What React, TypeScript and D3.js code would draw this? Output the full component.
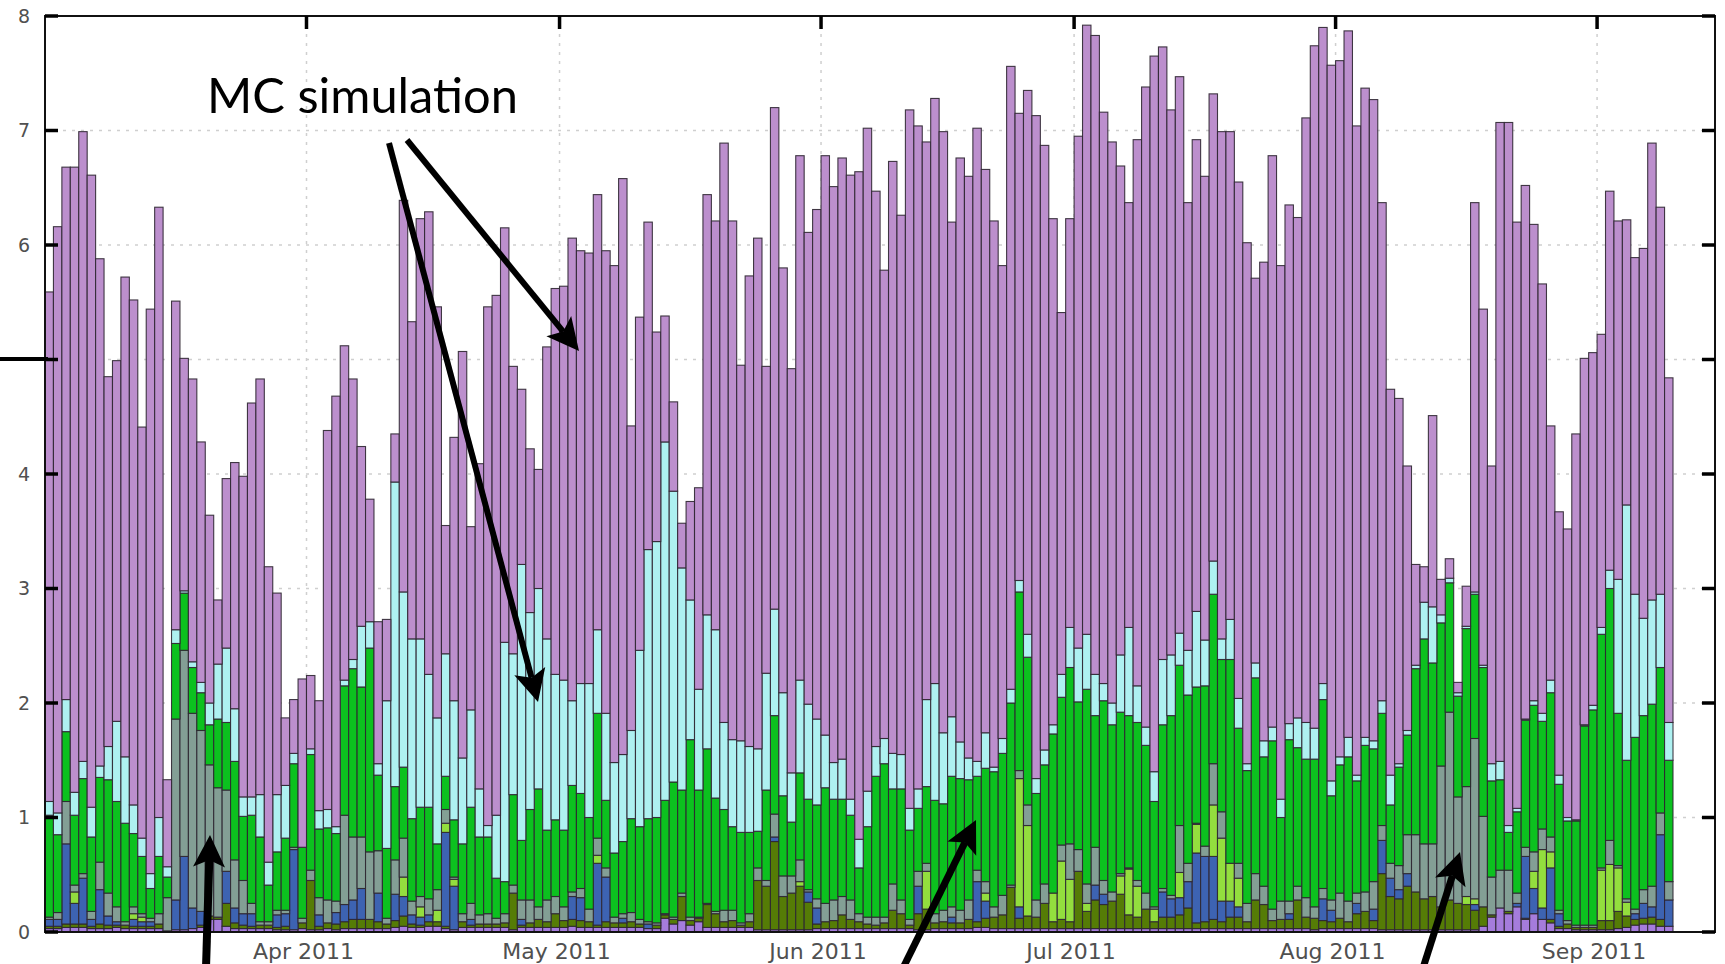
import React, { useRef, useEffect } from 'react';
import * as d3 from 'd3';

// one bar per day, 1 Mar 2011 .. 9 Sep 2011
const firstDay = new Date(Date.UTC(2011, 2, 1));
const endDay = new Date(Date.UTC(2011, 8, 10));

// top of each bar (MC simulation on top)
const totalTop = [
  5.59, 6.16, 6.68, 6.68, 6.99, 6.61, 5.88, 4.85, 4.99, 5.72,
  5.52, 4.41, 5.44, 6.33, 1.33, 5.51, 5.01, 4.83, 4.28, 3.64,
  2.90, 3.96, 4.10, 3.98, 4.62, 4.83, 3.19, 2.96, 1.87, 2.03,
  2.21, 2.24, 2.02, 4.38, 4.68, 5.12, 4.83, 4.24, 3.78, 2.71,
  2.73, 4.35, 6.39, 5.33, 6.23, 6.29, 5.46, 3.55, 4.32, 5.07,
  3.54, 4.09, 5.46, 5.56, 6.15, 4.94, 4.74, 4.22, 4.04, 5.11,
  5.62, 5.64, 6.06, 5.95, 5.93, 6.44, 5.95, 5.82, 6.58, 4.42,
  5.37, 6.20, 5.24, 5.38, 4.63, 3.57, 3.76, 3.88, 6.44, 6.21,
  6.89, 6.21, 4.95, 5.73, 6.06, 4.94, 7.20, 5.80, 4.92, 6.78,
  6.11, 6.31, 6.78, 6.51, 6.76, 6.61, 6.64, 7.02, 6.47, 5.78,
  6.73, 6.26, 7.18, 7.04, 6.90, 7.28, 6.99, 6.20, 6.76, 6.60,
  7.02, 6.66, 6.21, 5.82, 7.56, 7.15, 7.35, 7.13, 6.87, 6.23,
  5.41, 6.23, 6.95, 7.92, 7.83, 7.16, 6.90, 6.69, 6.37, 6.92,
  7.38, 7.65, 7.73, 7.18, 7.47, 6.37, 6.92, 6.60, 7.32, 6.99,
  6.99, 6.55, 6.02, 5.71, 5.85, 6.78, 5.82, 6.35, 6.24, 7.11,
  7.74, 7.90, 7.57, 7.61, 7.87, 7.04, 7.37, 7.27, 6.37, 4.74,
  4.66, 4.07, 3.21, 3.19, 4.51, 3.08, 3.26, 2.18, 3.02, 6.37,
  5.44, 4.07, 7.07, 7.07, 6.20, 6.52, 6.18, 5.66, 4.42, 3.67,
  3.52, 4.35, 5.01, 5.06, 5.22, 6.47, 6.21, 6.22, 5.89, 5.97,
  6.89, 6.33, 4.84,
];

// top of the light cyan layer
const cyanTop = [
  1.14, 1.04, 2.03, 1.22, 1.49, 1.09, 1.45, 1.62, 1.84, 1.53,
  1.11, 0.82, 0.51, 1.00, 0.57, 2.64, 2.98, 2.36, 2.18, 2.00,
  2.34, 2.48, 1.95, 1.18, 1.18, 1.20, 0.61, 1.20, 1.28, 1.56,
  0.74, 1.60, 1.06, 1.07, 0.92, 2.20, 2.38, 2.67, 2.71, 1.47,
  2.02, 3.93, 2.97, 2.56, 2.56, 2.25, 1.87, 2.43, 2.02, 1.52,
  1.94, 1.25, 0.93, 1.02, 2.53, 2.43, 3.21, 2.79, 3.00, 2.56,
  2.25, 2.20, 2.02, 2.17, 2.17, 2.64, 1.91, 1.48, 1.55, 1.76,
  2.46, 3.34, 3.41, 4.28, 3.85, 3.18, 2.90, 2.12, 2.77, 2.64,
  1.83, 1.68, 1.67, 1.62, 1.60, 2.26, 2.82, 2.09, 1.39, 2.20,
  1.99, 1.86, 1.72, 1.48, 1.51, 1.16, 0.81, 1.23, 1.62, 1.69,
  1.56, 1.55, 1.08, 1.25, 2.03, 2.17, 1.74, 1.88, 1.66, 1.52,
  1.49, 1.74, 1.44, 1.69, 2.12, 3.07, 2.60, 1.34, 1.59, 1.81,
  2.25, 2.66, 2.48, 2.60, 2.25, 2.17, 2.00, 2.42, 2.66, 2.15,
  1.79, 1.40, 2.38, 2.42, 2.61, 2.46, 2.80, 2.55, 3.24, 2.56,
  2.73, 2.04, 1.47, 2.35, 1.67, 1.79, 1.16, 1.82, 1.87, 1.83,
  1.78, 2.17, 1.32, 1.53, 1.70, 1.37, 1.70, 1.67, 2.02, 1.37,
  1.47, 1.76, 2.33, 2.88, 2.84, 2.77, 3.09, 2.09, 2.67, 2.97,
  2.33, 1.47, 1.49, 0.93, 1.08, 1.86, 2.02, 1.91, 2.20, 1.37,
  1.00, 0.98, 1.81, 1.98, 2.66, 3.16, 3.08, 3.73, 2.95, 2.74,
  2.90, 2.95, 1.83,
];

// top of the green layer
const greenTop = [
  1.02, 0.85, 1.75, 1.02, 1.34, 0.83, 1.35, 1.33, 1.14, 0.95,
  0.86, 0.66, 0.38, 0.66, 0.48, 2.52, 2.96, 2.31, 2.09, 1.81,
  1.86, 1.83, 1.49, 1.01, 1.02, 0.83, 0.41, 0.70, 0.82, 1.47,
  0.74, 1.55, 0.90, 0.91, 0.86, 2.15, 2.30, 2.14, 2.48, 1.37,
  0.73, 1.27, 1.44, 0.99, 1.09, 1.09, 0.77, 1.36, 0.98, 0.77,
  1.09, 0.83, 0.83, 0.47, 0.44, 1.20, 0.80, 1.07, 1.25, 0.89,
  0.98, 0.89, 1.28, 1.21, 1.00, 1.91, 1.15, 0.69, 0.79, 0.99,
  0.92, 0.99, 1.00, 1.15, 1.31, 1.24, 1.68, 1.24, 1.60, 1.17,
  1.07, 0.92, 0.87, 0.87, 0.88, 1.24, 1.89, 1.19, 0.96, 1.39,
  1.16, 1.11, 1.26, 1.16, 1.16, 1.02, 0.56, 0.92, 1.36, 1.47,
  1.25, 1.25, 0.89, 1.08, 1.27, 1.15, 1.12, 1.36, 1.34, 1.33,
  1.36, 1.43, 1.40, 1.56, 2.00, 2.97, 2.40, 1.21, 1.46, 1.73,
  2.05, 2.31, 2.01, 2.12, 1.89, 2.02, 1.81, 1.92, 1.89, 1.83,
  1.63, 1.14, 1.81, 1.89, 2.33, 2.07, 2.14, 2.15, 2.95, 2.38,
  2.38, 1.78, 1.41, 2.22, 1.53, 1.67, 1.00, 1.68, 1.61, 1.51,
  1.51, 2.03, 1.19, 1.46, 1.53, 1.32, 1.63, 1.60, 1.91, 1.11,
  1.44, 1.72, 2.30, 2.56, 2.35, 2.70, 3.05, 2.06, 2.65, 2.95,
  2.31, 1.32, 1.33, 0.87, 1.05, 1.85, 1.98, 1.84, 2.09, 1.29,
  0.97, 0.97, 1.80, 1.94, 2.60, 3.00, 1.91, 1.50, 1.70, 1.89,
  1.99, 2.31, 1.50,
];

// top of the grey-green layer (everything under the green)
const grayTop = [
  0.13, 0.17, 1.14, 0.41, 0.51, 0.18, 0.61, 0.34, 0.22, 0.09,
  0.22, 0.16, 0.12, 0.16, 0.30, 1.86, 2.46, 1.91, 1.76, 1.46,
  1.26, 1.24, 0.63, 0.45, 0.25, 0.09, 0.09, 0.19, 0.19, 0.74,
  0.12, 0.54, 0.30, 0.28, 0.27, 1.02, 0.83, 0.83, 0.70, 0.71,
  0.12, 0.63, 0.82, 0.27, 0.31, 0.29, 0.37, 1.07, 0.48, 0.16,
  0.25, 0.15, 0.16, 0.12, 0.16, 0.41, 0.28, 0.28, 0.22, 0.28,
  0.31, 0.22, 0.35, 0.38, 0.20, 0.82, 0.56, 0.13, 0.16, 0.17,
  0.11, 0.09, 0.08, 0.16, 0.13, 0.34, 0.13, 0.13, 0.25, 0.18,
  0.19, 0.19, 0.08, 0.16, 0.56, 0.45, 1.03, 0.49, 0.49, 0.63,
  0.37, 0.29, 0.25, 0.28, 0.31, 0.28, 0.16, 0.13, 0.13, 0.13,
  0.42, 0.28, 0.11, 0.53, 0.60, 0.16, 0.19, 0.22, 0.19, 0.28,
  0.54, 0.44, 0.22, 0.32, 0.41, 1.41, 1.11, 0.28, 0.42, 0.34,
  0.76, 0.77, 0.72, 0.42, 0.74, 0.45, 0.35, 0.51, 0.56, 0.45,
  0.34, 0.22, 0.38, 0.32, 0.93, 0.60, 0.95, 0.75, 1.47, 1.05,
  0.60, 0.60, 0.25, 0.51, 0.40, 0.20, 0.27, 0.27, 0.40, 0.30,
  0.22, 0.38, 0.28, 0.34, 0.27, 0.34, 0.35, 0.44, 0.93, 0.60,
  0.58, 0.85, 0.85, 0.77, 0.77, 1.45, 1.92, 1.18, 1.27, 1.69,
  1.01, 0.48, 0.54, 0.54, 0.34, 0.74, 0.70, 0.90, 0.83, 0.19,
  0.10, 0.06, 0.06, 0.06, 0.56, 0.80, 0.58, 0.29, 0.20, 0.37,
  0.40, 1.04, 0.44,
];

// small layers at the bottom, heights
const lightGreen = [
  0, 0, 0, 0.10, 0, 0, 0, 0, 0, 0,
  0.05, 0.04, 0, 0, 0, 0, 0, 0, 0, 0,
  0, 0, 0, 0, 0, 0, 0, 0, 0, 0,
  0, 0, 0, 0, 0, 0, 0, 0, 0, 0,
  0, 0, 0.17, 0, 0.09, 0, 0.10, 0.08, 0.06, 0,
  0, 0, 0, 0, 0, 0, 0, 0, 0, 0,
  0, 0, 0, 0, 0, 0.07, 0, 0, 0, 0,
  0, 0, 0, 0, 0, 0, 0, 0, 0, 0,
  0, 0, 0, 0, 0, 0, 0, 0, 0, 0.04,
  0, 0, 0, 0, 0, 0, 0, 0, 0, 0,
  0, 0, 0, 0, 0.33, 0, 0, 0, 0, 0,
  0, 0.07, 0, 0, 0, 1.12, 0.79, 0, 0, 0.25,
  0.51, 0.37, 0, 0.07, 0, 0, 0, 0.16, 0.40, 0.27,
  0, 0.11, 0, 0, 0.22, 0, 0.25, 0, 0.45, 0.55,
  0.33, 0.25, 0, 0, 0, 0, 0, 0, 0, 0,
  0, 0, 0, 0, 0, 0, 0, 0, 0, 0,
  0, 0, 0, 0, 0, 0, 0, 0, 0.07, 0.05,
  0, 0, 0, 0, 0, 0, 0.15, 0.51, 0.14, 0,
  0, 0, 0, 0, 0.44, 0.49, 0.38, 0.12, 0, 0,
  0, 0, 0,
];

const blue = [
  0.06, 0.06, 0.70, 0.18, 0.40, 0.06, 0.30, 0.08, 0.03, 0,
  0.06, 0.04, 0.04, 0, 0, 0.26, 0.64, 0.18, 0.12, 0,
  0, 0.28, 0.13, 0.10, 0.11, 0, 0, 0.11, 0.11, 0.70,
  0, 0, 0.10, 0, 0.10, 0.15, 0.17, 0.27, 0, 0.25,
  0, 0.23, 0.17, 0.08, 0.07, 0.06, 0, 0.82, 0.38, 0,
  0.05, 0, 0, 0, 0, 0, 0.05, 0, 0, 0,
  0, 0, 0.20, 0.20, 0, 0.54, 0.39, 0, 0.04, 0,
  0, 0.04, 0, 0, 0, 0, 0, 0, 0, 0,
  0, 0, 0, 0, 0, 0, 0.04, 0, 0, 0,
  0.09, 0.14, 0, 0, 0, 0, 0, 0, 0, 0,
  0, 0, 0, 0.24, 0, 0, 0, 0.05, 0, 0,
  0.35, 0.15, 0, 0, 0, 0.10, 0, 0, 0, 0,
  0, 0, 0, 0, 0.13, 0.09, 0, 0, 0, 0,
  0, 0, 0.22, 0.16, 0.15, 0.23, 0.61, 0.57, 0.55, 0.18,
  0.14, 0.09, 0, 0, 0, 0, 0, 0.05, 0, 0,
  0, 0.19, 0.10, 0, 0, 0.09, 0, 0.10, 0.29, 0.16,
  0.08, 0.11, 0, 0, 0, 0, 0, 0, 0, 0.05,
  0, 0, 0, 0, 0.03, 0.54, 0.22, 0.10, 0.45, 0.11,
  0, 0, 0, 0, 0, 0, 0, 0, 0.05, 0.13,
  0.09, 0.74, 0.23,
];

const olive = [
  0.02, 0.02, 0.03, 0.03, 0.03, 0.02, 0.04, 0.03, 0.02, 0.03,
  0.02, 0.02, 0.02, 0.04, 0, 0, 0, 0, 0.02, 0.03,
  0.02, 0.20, 0.05, 0.03, 0.02, 0.03, 0.03, 0.02, 0.03, 0,
  0.05, 0.43, 0.03, 0.05, 0.05, 0.06, 0.08, 0.08, 0.08, 0.06,
  0.04, 0.06, 0.09, 0.03, 0.02, 0.04, 0.04, 0.02, 0, 0.05,
  0.02, 0.03, 0.03, 0.03, 0.04, 0.32, 0.02, 0.04, 0.07, 0.05,
  0.12, 0.06, 0.06, 0.06, 0.05, 0.02, 0.05, 0.04, 0.04, 0.05,
  0.03, 0, 0.03, 0.03, 0.04, 0.21, 0.04, 0.03, 0.20, 0.12,
  0.05, 0.06, 0.02, 0.05, 0.43, 0.38, 0.77, 0.29, 0.32, 0.38,
  0.24, 0.04, 0.06, 0.07, 0.12, 0.08, 0.06, 0.04, 0.03, 0.05,
  0.16, 0.13, 0.03, 0.14, 0.18, 0.05, 0.06, 0.05, 0.05, 0.08,
  0.05, 0.08, 0.10, 0.12, 0.36, 0.09, 0.11, 0.10, 0.22, 0.06,
  0.08, 0.06, 0.50, 0.15, 0.25, 0.21, 0.24, 0.30, 0.12, 0.10,
  0.17, 0.06, 0.10, 0.10, 0.12, 0.18, 0.05, 0.06, 0.08, 0.06,
  0.10, 0.10, 0.06, 0.25, 0.21, 0.07, 0.08, 0.08, 0.25, 0.10,
  0.10, 0.07, 0.06, 0.09, 0.06, 0.13, 0.15, 0.07, 0.49, 0.29,
  0.27, 0.38, 0.33, 0.27, 0.29, 0.20, 0.26, 0.23, 0.22, 0.17,
  0.17, 0.02, 0, 0.02, 0, 0.01, 0, 0, 0.03, 0.02,
  0.04, 0.02, 0.02, 0.02, 0.08, 0.08, 0.15, 0.10, 0.05, 0.05,
  0.06, 0.06, 0,
];

const violet = [
  0.03, 0.03, 0.04, 0.04, 0.04, 0.03, 0.03, 0.03, 0.04, 0.03,
  0.03, 0.03, 0.03, 0.03, 0.01, 0.02, 0.02, 0.03, 0.04, 0.11,
  0.11, 0.05, 0.03, 0.03, 0.03, 0.03, 0.03, 0.02, 0.02, 0.02,
  0.03, 0.02, 0.02, 0.03, 0.02, 0.03, 0.03, 0.03, 0.03, 0.03,
  0.03, 0.04, 0.05, 0.04, 0.04, 0.05, 0.05, 0.03, 0.02, 0.04,
  0.04, 0.04, 0.04, 0.04, 0.04, 0.02, 0.04, 0.04, 0.04, 0.04,
  0.04, 0.04, 0.05, 0.04, 0.04, 0.04, 0.04, 0.04, 0.04, 0.04,
  0.04, 0.03, 0.03, 0.12, 0.07, 0.10, 0.06, 0.09, 0.04, 0.04,
  0.04, 0.04, 0.04, 0.04, 0.02, 0.02, 0.02, 0.02, 0.02, 0.02,
  0.02, 0.03, 0.03, 0.03, 0.03, 0.03, 0.03, 0.03, 0.03, 0.03,
  0.03, 0.03, 0.03, 0.02, 0.02, 0.03, 0.03, 0.03, 0.03, 0.03,
  0.04, 0.04, 0.03, 0.03, 0.03, 0.03, 0.03, 0.03, 0.03, 0.03,
  0.03, 0.03, 0.03, 0.03, 0.03, 0.03, 0.03, 0.03, 0.03, 0.03,
  0.03, 0.03, 0.03, 0.03, 0.03, 0.03, 0.03, 0.03, 0.03, 0.03,
  0.03, 0.03, 0.03, 0.03, 0.03, 0.03, 0.03, 0.03, 0.03, 0.03,
  0.02, 0.03, 0.03, 0.03, 0.03, 0.03, 0.03, 0.03, 0.02, 0.02,
  0.02, 0.02, 0.02, 0.02, 0.02, 0.02, 0.02, 0.02, 0.02, 0.02,
  0.05, 0.13, 0.21, 0.16, 0.22, 0.11, 0.16, 0.11, 0.08, 0.03,
  0.03, 0.02, 0.02, 0.02, 0.02, 0.02, 0.03, 0.04, 0.06, 0.07,
  0.07, 0.05, 0.05,
];

const layerKeys = ['violet', 'olive', 'blue', 'lightGreen', 'gray', 'green', 'cyan', 'purple'];
const layerColors = {
  violet: '#a57cdc',
  olive: '#557c06',
  blue: '#3d63b2',
  lightGreen: '#93de3e',
  gray: '#839f95',
  green: '#0cc11f',
  cyan: '#aef1f1',
  purple: '#bc8fcd',
};

const yTicks = [0, 1, 2, 3, 4, 5, 6, 7, 8];
// the "5" label sits under the black annotation stroke in the picture
const yTickLabels = ['0', '1', '2', '3', '4', '', '6', '7', '8'];
const monthTicks = [
  new Date(Date.UTC(2011, 3, 1)),
  new Date(Date.UTC(2011, 4, 1)),
  new Date(Date.UTC(2011, 5, 1)),
  new Date(Date.UTC(2011, 6, 1)),
  new Date(Date.UTC(2011, 7, 1)),
  new Date(Date.UTC(2011, 8, 1)),
];
const monthLabels = ['Apr 2011', 'May 2011', 'Jun 2011', 'Jul 2011', 'Aug 2011', 'Sep 2011'];

const W = 1725;
const H = 964;
const plot = { left: 45, right: 1715, top: 16, bottom: 932, barsEnd: 1673 };

// arrow: shaft plus notched head
const drawArrow = (g, x1, y1, x2, y2, w) => {
  const headLen = 32;
  const headW = 32;
  const len = Math.hypot(x2 - x1, y2 - y1);
  const ux = (x2 - x1) / len;
  const uy = (y2 - y1) / len;
  const bx = x2 - ux * headLen;
  const by = y2 - uy * headLen;
  const nx = bx + ux * 7;
  const ny = by + uy * 7;
  g.append('line')
    .attr('x1', x1).attr('y1', y1)
    .attr('x2', nx).attr('y2', ny)
    .attr('stroke', '#000').attr('stroke-width', w);
  g.append('polygon')
    .attr('points', [
      [x2, y2],
      [bx - uy * headW / 2, by + ux * headW / 2],
      [nx, ny],
      [bx + uy * headW / 2, by - ux * headW / 2],
    ].map(p => p.join(',')).join(' '))
    .attr('fill', '#000');
};

const App = () => {
  const svgRef = useRef(null);

  useEffect(() => {
    const svg = d3.select(svgRef.current);
    svg.selectAll('*').remove();

    const days = d3.utcDay.range(firstDay, endDay);
    const rows = days.map((d, i) => {
      const under = violet[i] + olive[i] + blue[i] + lightGreen[i];
      return {
        date: d,
        violet: violet[i],
        olive: olive[i],
        blue: blue[i],
        lightGreen: lightGreen[i],
        gray: Math.max(0, grayTop[i] - under),
        green: greenTop[i] - grayTop[i],
        cyan: cyanTop[i] - greenTop[i],
        purple: totalTop[i] - cyanTop[i],
      };
    });

    const x = d3.scaleUtc().domain([firstDay, endDay]).range([plot.left, plot.barsEnd]);
    const y = d3.scaleLinear().domain([0, 8]).range([plot.bottom, plot.top]);

    svg.append('rect').attr('width', W).attr('height', H).attr('fill', '#fff');

    // dotted grid
    const grid = svg.append('g').attr('stroke', '#cfcfcf').attr('stroke-width', 1.5).attr('stroke-dasharray', '3,6');
    grid.selectAll('.gy').data(yTicks.slice(1, -1)).enter().append('line')
      .attr('x1', plot.left).attr('x2', plot.right)
      .attr('y1', d => y(d)).attr('y2', d => y(d));
    grid.selectAll('.gx').data(monthTicks).enter().append('line')
      .attr('x1', d => x(d)).attr('x2', d => x(d))
      .attr('y1', plot.top).attr('y2', plot.bottom);

    // stacked bars
    const stacked = d3.stack().keys(layerKeys)(rows);
    svg.append('g')
      .selectAll('g')
      .data(stacked)
      .enter().append('g')
      .attr('fill', d => layerColors[d.key])
      .selectAll('rect')
      .data(d => d.filter(s => s[1] - s[0] > 0.004))
      .enter().append('rect')
      .attr('x', d => x(d.data.date))
      .attr('width', d => x(d3.utcDay.offset(d.data.date, 1)) - x(d.data.date))
      .attr('y', d => y(d[1]))
      .attr('height', d => y(d[0]) - y(d[1]))
      .attr('stroke', '#2e2631')
      .attr('stroke-opacity', 0.9)
      .attr('stroke-width', 1.1);

    // frame and ticks
    svg.append('rect')
      .attr('x', plot.left).attr('y', plot.top)
      .attr('width', plot.right - plot.left).attr('height', plot.bottom - plot.top)
      .attr('fill', 'none').attr('stroke', '#111').attr('stroke-width', 2);

    const ticks = svg.append('g').attr('stroke', '#000').attr('stroke-width', 3.5);
    ticks.selectAll('.tl').data(yTicks).enter().append('line')
      .attr('x1', plot.left).attr('x2', plot.left + 13)
      .attr('y1', d => y(d)).attr('y2', d => y(d));
    ticks.selectAll('.tr').data(yTicks).enter().append('line')
      .attr('x1', plot.right - 13).attr('x2', plot.right)
      .attr('y1', d => y(d)).attr('y2', d => y(d));
    ticks.selectAll('.tt').data(monthTicks).enter().append('line')
      .attr('x1', d => x(d)).attr('x2', d => x(d))
      .attr('y1', plot.top).attr('y2', plot.top + 13);

    svg.append('g')
      .selectAll('text')
      .data(yTicks)
      .enter().append('text')
      .attr('x', 24)
      .attr('y', d => y(d))
      .attr('dy', '0.36em')
      .attr('text-anchor', 'middle')
      .attr('font-family', 'DejaVu Sans')
      .attr('font-size', 19)
      .attr('fill', '#505050')
      .text((d, i) => yTickLabels[i]);

    svg.append('g')
      .selectAll('text')
      .data(monthTicks)
      .enter().append('text')
      .attr('x', d => x(d) - 3)
      .attr('y', 959)
      .attr('text-anchor', 'middle')
      .attr('font-family', 'DejaVu Sans')
      .attr('font-size', 22)
      .attr('fill', '#505050')
      .text((d, i) => monthLabels[i]);

    // annotations
    const ann = svg.append('g');
    ann.append('text')
      .attr('x', 207).attr('y', 113)
      .attr('font-family', 'Lato')
      .attr('font-size', 48)
      .attr('textLength', 311)
      .attr('lengthAdjust', 'spacingAndGlyphs')
      .attr('fill', '#000')
      .text('MC simulation');
    ann.append('line')
      .attr('x1', 0).attr('y1', 359).attr('x2', 48).attr('y2', 359)
      .attr('stroke', '#000').attr('stroke-width', 4);
    drawArrow(ann, 407, 140, 579, 351, 6);
    drawArrow(ann, 389, 143, 538, 702, 6);
    drawArrow(ann, 206, 968, 210, 835, 8);
    drawArrow(ann, 903, 968, 976, 820, 7);
    drawArrow(ann, 1423, 968, 1460, 852, 7);
  }, []);

  return (
    <svg ref={svgRef} width={W} height={H} style={{ position: 'absolute', left: 0, top: 0 }} />
  );
};

export default App;
